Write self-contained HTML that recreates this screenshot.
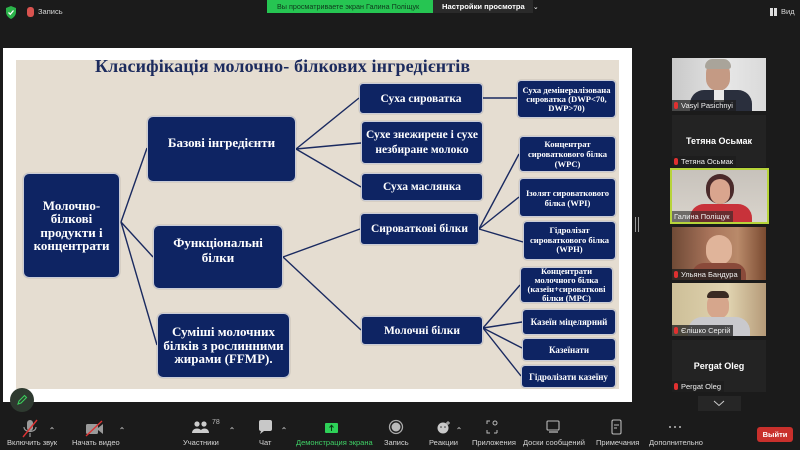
<!DOCTYPE html>
<html><head><meta charset="utf-8">
<style>
*{margin:0;padding:0;box-sizing:border-box}
html,body{width:800px;height:450px;overflow:hidden;background:#1b1b1b;font-family:"Liberation Sans",sans-serif}
.abs{position:absolute}
.n{position:absolute;background:#0e2463;border:1px solid #c9ccd8;border-radius:4px;color:#fff;font-family:"Liberation Serif",serif;font-weight:bold;display:flex;align-items:center;justify-content:center;text-align:center;box-shadow:0 0 1px rgba(0,0,0,.4)}
.lbl{position:absolute;font-size:7.5px;color:#d6d6d6;white-space:nowrap}
.tile{position:absolute;overflow:hidden}
.name{position:absolute;left:0;bottom:0;background:rgba(30,30,30,.75);color:#f0f0f0;font-size:7.5px;padding:1px 3px 1px 2px;white-space:nowrap;display:flex;align-items:center}
.mic{display:inline-block;width:4px;height:7px;background:#e03030;border-radius:2px;margin-right:3px;position:relative}
</style></head><body>

<!-- top bar -->
<svg class="abs" style="left:5px;top:6px" width="12" height="13" viewBox="0 0 12 13"><path d="M6 0 L11 2 L11 6 C11 9 9 11.5 6 13 C3 11.5 1 9 1 6 L1 2 Z" fill="#2bb34a"/><path d="M3.5 6.5 L5.3 8.3 L8.5 4.5" stroke="#fff" stroke-width="1.3" fill="none"/></svg>
<div class="abs" style="left:27px;top:7px;width:7px;height:10px;border-radius:3px;background:#d9534f"></div>
<div class="abs" style="left:38px;top:7px;font-size:7.5px;color:#d8d8d8">Запись</div>
<div class="abs" style="left:267px;top:0;width:166px;height:13px;background:#26c552;font-size:7.2px;color:#0f3a1c;line-height:13px;padding-left:10px;white-space:nowrap;overflow:hidden">Вы просматриваете экран Галина Поліщук</div>
<div class="abs" style="left:433px;top:0;width:100px;height:13px;background:#2a2a2a;font-size:7.6px;color:#fff;font-weight:bold;line-height:13px;padding-left:9px;white-space:nowrap">Настройки просмотра <span style="font-weight:normal;margin-left:6px;font-size:7px">⌄</span></div>
<div class="abs" style="left:770px;top:8px;width:3px;height:8px;background:#ddd"></div>
<div class="abs" style="left:774px;top:8px;width:3px;height:8px;background:#ddd"></div>
<div class="abs" style="left:781px;top:7px;font-size:7.5px;color:#d8d8d8">Вид</div>

<!-- slide -->
<div class="abs" style="left:3px;top:48px;width:629px;height:354px;background:#fff"></div>
<div class="abs" style="left:16px;top:60px;width:603px;height:329px;background:#e5ddd1"></div>
<div class="abs" style="left:95px;top:56px;font-family:'Liberation Serif',serif;font-weight:bold;font-size:18px;color:#1c2b5e;white-space:nowrap;letter-spacing:0.13px">Класифікація молочно- білкових інгредієнтів</div>

<svg class="abs" style="left:0;top:0" width="800" height="450">
<g stroke="#1a2a60" stroke-width="1.4" fill="none">
<line x1="121" y1="222" x2="147" y2="148"/>
<line x1="121" y1="222" x2="153" y2="257"/>
<line x1="121" y1="222" x2="157" y2="345"/>
<line x1="296" y1="149" x2="359" y2="98"/>
<line x1="296" y1="149" x2="361" y2="143"/>
<line x1="296" y1="149" x2="361" y2="187"/>
<line x1="283" y1="257" x2="360" y2="229"/>
<line x1="283" y1="257" x2="361" y2="330"/>
<line x1="483" y1="98" x2="517" y2="98"/>
<line x1="479" y1="229" x2="519" y2="154"/>
<line x1="479" y1="229" x2="519" y2="197"/>
<line x1="479" y1="229" x2="523" y2="242"/>
<line x1="483" y1="328" x2="520" y2="285"/>
<line x1="483" y1="328" x2="522" y2="322"/>
<line x1="483" y1="328" x2="522" y2="348"/>
<line x1="483" y1="328" x2="521" y2="376"/>
</g>
</svg>

<div class="n" style="left:23px;top:173px;width:97px;height:105px;font-size:13px;line-height:13.5px;border-radius:6px">Молочно-<br>білкові<br>продукти і<br>концентрати</div>
<div class="n" style="left:147px;top:116px;width:149px;height:66px;font-size:13px;padding-bottom:12px;border-radius:6px">Базові інгредієнти</div>
<div class="n" style="left:153px;top:225px;width:130px;height:64px;font-size:13px;line-height:15px;padding-bottom:14px;border-radius:6px">Функціональні<br>білки</div>
<div class="n" style="left:157px;top:313px;width:133px;height:65px;font-size:13px;line-height:13.5px;border-radius:6px">Суміші молочних<br>білків з рослинними<br>жирами (FFMP).</div>

<div class="n" style="left:359px;top:83px;width:124px;height:31px;font-size:11.5px">Суха сироватка</div>
<div class="n" style="left:361px;top:121px;width:122px;height:43px;font-size:11.5px;line-height:15px">Сухе знежирене і сухе<br>незбиране молоко</div>
<div class="n" style="left:361px;top:173px;width:122px;height:28px;font-size:11.5px">Суха маслянка</div>
<div class="n" style="left:360px;top:213px;width:119px;height:32px;font-size:11.5px">Сироваткові білки</div>
<div class="n" style="left:361px;top:316px;width:122px;height:29px;font-size:11.5px">Молочні білки</div>

<div class="n" style="left:517px;top:80px;width:99px;height:38px;font-size:8.6px;line-height:9px">Суха демінералізована<br>сироватка (DWP&lt;70,<br>DWP&gt;70)</div>
<div class="n" style="left:519px;top:136px;width:97px;height:36px;font-size:8.6px;line-height:10px">Концентрат<br>сироваткового білка<br>(WPC)</div>
<div class="n" style="left:519px;top:178px;width:97px;height:39px;font-size:8.6px;line-height:10px">Ізолят сироваткового<br>білка (WPI)</div>
<div class="n" style="left:523px;top:221px;width:93px;height:39px;font-size:8.6px;line-height:9.7px">Гідролізат<br>сироваткового білка<br>(WPH)</div>
<div class="n" style="left:520px;top:267px;width:93px;height:36px;font-size:8.6px;line-height:9.2px">Концентрати<br>молочного білка<br>(казеїн+сироваткові<br>білки (MPC)</div>
<div class="n" style="left:522px;top:309px;width:94px;height:26px;font-size:9px">Казеїн міцелярний</div>
<div class="n" style="left:522px;top:338px;width:94px;height:23px;font-size:9px">Казеїнати</div>
<div class="n" style="left:521px;top:365px;width:95px;height:23px;font-size:9px">Гідролізати казеїну</div>

<!-- scroll marks -->
<div class="abs" style="left:635px;top:217px;width:1px;height:15px;background:#9a9a9a"></div>
<div class="abs" style="left:638px;top:217px;width:1px;height:15px;background:#9a9a9a"></div>

<!-- pencil button -->
<div class="abs" style="left:10px;top:388px;width:24px;height:24px;border-radius:12px;background:#2e3a30"></div>
<svg class="abs" style="left:16px;top:394px" width="12" height="12"><path d="M2 10 L3 7 L8.5 1.5 L10.5 3.5 L5 9 Z" stroke="#3ccf5c" stroke-width="1.1" fill="none"/></svg>

<!-- participants -->
<div class="tile" style="left:672px;top:58px;width:94px;height:53px;background:linear-gradient(90deg,#c9c9c9,#e6e6e6 60%,#dadada)">
  <div class="abs" style="left:34px;top:3px;width:24px;height:30px;border-radius:12px;background:#c49a84"></div>
  <div class="abs" style="left:33px;top:1px;width:26px;height:10px;border-radius:12px 12px 4px 4px;background:#a9a49a"></div>
  <div class="abs" style="left:18px;top:32px;width:62px;height:30px;border-radius:14px 14px 0 0;background:#2a2f3d"></div>
  <div class="abs" style="left:42px;top:32px;width:10px;height:12px;background:#e8e8e8"></div>
  <div class="name"><span class="mic"></span>Vasyl Pasichnyi</div>
</div>
<div class="tile" style="left:672px;top:115px;width:94px;height:52px;background:#232323">
  <div class="abs" style="left:0;top:21px;width:94px;text-align:center;color:#fff;font-weight:bold;font-size:9px">Тетяна Осьмак</div>
  <div class="name"><span class="mic"></span>Тетяна Осьмак</div>
</div>
<div class="tile" style="left:670px;top:168px;width:99px;height:56px;border:2px solid #b7d43a;background:linear-gradient(180deg,#c7c2bb,#d9d4cc)">
  <div class="abs" style="left:34px;top:4px;width:28px;height:30px;border-radius:14px;background:#4a2a2a"></div>
  <div class="abs" style="left:38px;top:9px;width:20px;height:25px;border-radius:10px;background:#d9a58e"></div>
  <div class="abs" style="left:18px;top:34px;width:62px;height:25px;border-radius:14px 14px 0 0;background:#c8323a"></div>
  <div class="name" style="background:rgba(40,40,40,.6)">Галина Поліщук</div>
</div>
<div class="tile" style="left:672px;top:227px;width:94px;height:53px;background:linear-gradient(90deg,#6f4a36,#a8735a 40%,#b98a6a 70%,#7a4a30)">
  <div class="abs" style="left:34px;top:8px;width:26px;height:30px;border-radius:13px;background:#e0b49a"></div>
  <div class="abs" style="left:20px;top:36px;width:54px;height:20px;border-radius:12px 12px 0 0;background:#8a4a3a"></div>
  <div class="name"><span class="mic"></span>Ульяна Бандура</div>
</div>
<div class="tile" style="left:672px;top:283px;width:94px;height:53px;background:linear-gradient(90deg,#cdbf98,#e0d3b0 60%,#b59a78)">
  <div class="abs" style="left:35px;top:10px;width:22px;height:26px;border-radius:11px;background:#d6a68c"></div>
  <div class="abs" style="left:35px;top:8px;width:22px;height:7px;border-radius:11px 11px 2px 2px;background:#3a2a22"></div>
  <div class="abs" style="left:16px;top:34px;width:62px;height:24px;border-radius:14px 14px 0 0;background:#c9c9cd"></div>
  <div class="name"><span class="mic"></span>Єлішко Сергій</div>
</div>
<div class="tile" style="left:672px;top:340px;width:94px;height:52px;background:#232323">
  <div class="abs" style="left:0;top:21px;width:94px;text-align:center;color:#fff;font-weight:bold;font-size:9px">Pergat Oleg</div>
  <div class="name"><span class="mic"></span>Pergat Oleg</div>
</div>
<div class="abs" style="left:698px;top:396px;width:43px;height:15px;background:#262626"></div>
<svg class="abs" style="left:713px;top:400px" width="12" height="7"><path d="M1 1 L6 5.5 L11 1" stroke="#ccc" stroke-width="1" fill="none"/></svg>

<!-- toolbar -->
<svg class="abs" style="left:0;top:418px" width="800" height="22">
 <rect x="27" y="2" width="6" height="11" rx="3" fill="#9a9a9a"/>
 <path d="M24 9 C24 15 36 15 36 9" stroke="#9a9a9a" fill="none" stroke-width="1.2"/>
 <line x1="30" y1="15" x2="30" y2="19" stroke="#9a9a9a" stroke-width="1.2"/>
 <line x1="23" y1="19" x2="37" y2="2" stroke="#d33" stroke-width="1.4"/>
 <rect x="86" y="6" width="12" height="10" rx="1.5" fill="#9a9a9a"/>
 <path d="M98 10 L103 6 L103 16 L98 12 Z" fill="#9a9a9a"/>
 <line x1="86" y1="18" x2="102" y2="3" stroke="#d33" stroke-width="1.4"/>
 <circle cx="197" cy="6" r="2.6" fill="#ccc"/><path d="M192 15 C192 9 202 9 202 15 Z" fill="#ccc"/>
 <circle cx="204" cy="6" r="2.6" fill="#ccc"/><path d="M200 15 C200 9 209 9 209 15 Z" fill="#ccc"/>
 <path d="M259 4 Q259 2 261 2 L270 2 Q272 2 272 4 L272 11 Q272 13 270 13 L264 13 L260 16 L261 13 Q259 13 259 11 Z" fill="#c8c8c8"/>
 <rect x="325" y="5" width="13" height="10" rx="1" fill="#2ed158"/>
 <path d="M331.5 13 L331.5 7.5 M329.5 9.5 L331.5 7.3 L333.5 9.5" stroke="#0a3a16" stroke-width="1" fill="none"/>
 <circle cx="396" cy="9" r="6.5" fill="none" stroke="#aaa" stroke-width="1.3"/>
 <circle cx="396" cy="9" r="4.5" fill="#bbb"/>
 <circle cx="443" cy="10" r="5.5" fill="#c9c9c9"/><circle cx="441" cy="9" r="0.8" fill="#333"/><circle cx="445" cy="9" r="0.8" fill="#333"/>
 <path d="M448 3 L448 7 M446 5 L450 5" stroke="#ccc" stroke-width="0.9"/>
 <path d="M487 6 L487 3 L490 3 M487 12 L487 15 L490 15 M497 15 L494 15 M497 12 L497 15" stroke="#bbb" stroke-width="1" fill="none"/><circle cx="495" cy="5" r="2" fill="none" stroke="#bbb"/>
 <rect x="547" y="3" width="12" height="9" rx="1" fill="none" stroke="#bbb" stroke-width="1.1"/><line x1="549" y1="14" x2="558" y2="14" stroke="#bbb" stroke-width="1.3"/>
 <rect x="612" y="2" width="9" height="14" rx="1.5" fill="none" stroke="#bbb" stroke-width="1.1"/><line x1="614" y1="7" x2="619" y2="7" stroke="#bbb"/><line x1="614" y1="10" x2="617" y2="10" stroke="#bbb"/>
 <circle cx="670" cy="9" r="1" fill="#bbb"/><circle cx="675" cy="9" r="1" fill="#bbb"/><circle cx="680" cy="9" r="1" fill="#bbb"/>
 <g stroke="#aaa" stroke-width="0.9" fill="none">
 <path d="M50.5 11 L52 9.5 L53.5 11"/><path d="M120.5 11 L122 9.5 L123.5 11"/><path d="M230.5 11 L232 9.5 L233.5 11"/><path d="M282.5 11 L284 9.5 L285.5 11"/><path d="M457.5 11 L459 9.5 L460.5 11"/>
 </g>
</svg>
<div class="abs" style="left:212px;top:419px;font-size:7px;color:#bbb">78</div>
<div class="lbl" style="left:7px;top:438px">Включить звук</div>
<div class="lbl" style="left:72px;top:438px">Начать видео</div>
<div class="lbl" style="left:183px;top:438px">Участники</div>
<div class="lbl" style="left:259px;top:438px">Чат</div>
<div class="lbl" style="left:296px;top:438px;color:#3fd166">Демонстрация экрана</div>
<div class="lbl" style="left:384px;top:438px">Запись</div>
<div class="lbl" style="left:429px;top:438px">Реакции</div>
<div class="lbl" style="left:472px;top:438px">Приложения</div>
<div class="lbl" style="left:523px;top:438px">Доски сообщений</div>
<div class="lbl" style="left:596px;top:438px">Примечания</div>
<div class="lbl" style="left:649px;top:438px">Дополнительно</div>
<div class="abs" style="left:757px;top:427px;width:36px;height:15px;border-radius:3px;background:#c9302c;color:#fff;font-size:7.5px;font-weight:bold;text-align:center;line-height:15px">Выйти</div>

</body></html>
